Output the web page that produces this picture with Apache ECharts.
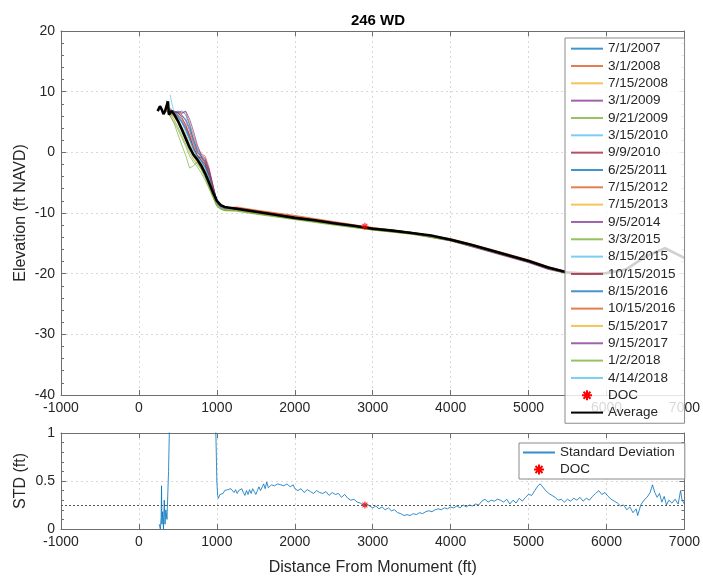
<!DOCTYPE html>
<html><head><meta charset="utf-8">
<script src="https://cdn.jsdelivr.net/npm/echarts@6/dist/echarts.min.js"></script>
<style>html,body{margin:0;padding:0;background:#fff}#c{width:703px;height:579px}</style>
</head><body><div id="c"></div>
<script>
// ---------- DATA ----------
const surveyDates = ['7/1/2007','3/1/2008','7/15/2008','3/1/2009','9/21/2009','3/15/2010','9/9/2010','6/25/2011','7/15/2012','7/15/2013','9/5/2014','3/3/2015','8/15/2015','10/15/2015','8/15/2016','10/15/2016','5/15/2017','9/15/2017','1/2/2018','4/14/2018'];
const xGrid = [300,350,400,450,500,550,600,650,700,750,800,850,900,950,1000,1050,1100,1250,1500,2000,2500,3000,3500,4000,4500,5000,5250,5500,5750,6000,6250,6500,6750,7000];
const s01 = [null,null,6.5,6.8,6.4,6.0,5.5,4.0,2.2,0.5,-0.6,-1.5,-3.5,-5.8,-7.8,-8.8,-9.1,-9.4,-9.9,-10.9,-11.8,-12.6,-13.3,-14.3,-16.0,-17.8,-19.0,-19.8,-20.0,-19.9,-19.3,-17.2,-15.8,-17.4];
const s02 = [null,null,null,6.2,6.6,6.4,6.7,4.8,2.8,0.8,-0.3,-0.6,-2.5,-5.5,-8.3,-9.0,-9.2,-9.0,-9.5,-10.4,-11.4,-12.4,-13.2,-14.2,-15.9,-17.7,-18.8,-19.7,-20.0,-19.9,-19.2,-17.1,-15.7,-17.3];
const s03 = [null,7.0,6.2,5.8,4.8,3.5,2.0,0.5,-0.8,-1.8,-2.6,-3.8,-5.2,-7.0,-8.6,-9.2,-9.4,-9.5,-10.0,-10.9,-11.8,-12.7,-13.4,-14.5,-16.2,-18.0,-19.1,-19.9,-20.1,-20.0,-19.4,-17.3,-15.9,-17.5];
const s04 = [null,null,null,6.6,6.8,6.5,6.8,5.5,3.5,1.2,-0.4,-1.0,-2.8,-5.6,-8.2,-9.0,-9.2,-9.2,-9.7,-10.7,-11.6,-12.5,-13.3,-14.5,-16.3,-18.1,-19.2,-19.9,-20.0,-19.9,-19.3,-17.2,-15.8,-17.4];
const s05 = [null,7.2,6.0,4.8,3.0,1.2,-0.5,-2.6,-2.2,-1.6,-2.8,-4.2,-5.8,-7.4,-8.9,-9.4,-9.6,-9.7,-10.2,-11.1,-12.0,-12.8,-13.5,-14.6,-16.3,-18.1,-19.2,-20.0,-20.2,-20.1,-19.5,-17.4,-16.0,-17.6];
const s06 = [null,null,9.5,6.5,6.2,5.5,4.2,2.6,0.8,-0.6,-1.2,-2.2,-4.0,-6.2,-8.4,-9.1,-9.3,-9.3,-9.8,-10.8,-11.6,-12.5,-13.2,-14.3,-16.0,-17.9,-19.0,-19.8,-20.0,-19.9,-19.3,-17.2,-15.8,-17.4];
const s07 = [null,null,7.2,6.6,6.5,5.8,4.5,2.8,0.6,-0.8,-0.8,-1.8,-3.8,-6.0,-8.2,-9.0,-9.2,-9.2,-9.7,-10.7,-11.6,-12.5,-13.3,-14.4,-16.1,-17.9,-19.0,-19.8,-20.0,-19.9,-19.3,-17.2,-15.8,-17.4];
const s08 = [null,null,null,6.4,6.6,6.8,6.2,4.5,2.0,0.2,-0.8,-1.6,-3.2,-5.6,-8.0,-8.9,-9.1,-9.3,-9.8,-10.8,-11.7,-12.6,-13.3,-14.3,-16.0,-17.8,-18.9,-19.8,-20.0,-19.9,-19.2,-17.1,-15.8,-17.4];
const s09 = [null,6.8,6.4,6.0,5.2,4.0,2.6,1.0,-0.4,-1.4,-2.0,-3.0,-4.6,-6.6,-8.4,-9.0,-9.3,-9.1,-9.6,-10.5,-11.5,-12.5,-13.2,-14.3,-16.0,-17.8,-18.9,-19.7,-19.9,-19.8,-19.2,-17.1,-15.7,-17.3];
const s10 = [null,null,7.4,6.2,5.4,4.2,3.0,1.5,0.0,-1.0,-1.8,-2.8,-4.4,-6.4,-8.3,-9.1,-9.3,-9.4,-9.9,-10.8,-11.7,-12.6,-13.3,-14.4,-16.1,-17.9,-19.0,-19.8,-20.0,-19.9,-19.3,-17.2,-15.8,-17.4];
const s11 = [null,null,6.8,6.4,6.0,5.0,3.8,2.2,0.6,-0.6,-1.4,-2.4,-4.2,-6.4,-8.5,-9.1,-9.4,-9.3,-9.8,-10.8,-11.7,-12.6,-13.4,-14.6,-16.4,-18.2,-19.3,-20.0,-20.1,-20.0,-19.4,-17.3,-15.9,-17.5];
const s12 = [null,7.0,6.0,5.0,3.8,2.4,1.0,-0.6,-1.6,-2.4,-3.4,-4.6,-6.0,-7.4,-8.8,-9.3,-9.6,-9.6,-10.1,-11.0,-11.9,-12.8,-13.4,-14.5,-16.2,-18.0,-19.1,-19.9,-20.1,-20.0,-19.4,-17.3,-15.9,-17.5];
const s13 = [null,null,6.8,6.4,5.8,4.8,3.4,2.0,0.4,-0.8,-1.6,-2.6,-4.4,-6.6,-8.6,-9.2,-9.4,-9.3,-9.8,-10.8,-11.7,-12.5,-13.2,-14.3,-16.0,-17.9,-19.0,-19.8,-20.0,-19.9,-19.3,-17.2,-15.8,-17.4];
const s14 = [null,null,7.0,6.4,6.0,5.2,4.0,2.4,0.8,-0.5,-1.2,-2.0,-3.8,-6.0,-8.3,-9.0,-9.3,-9.3,-9.8,-10.7,-11.6,-12.6,-13.3,-14.4,-16.1,-17.9,-19.0,-19.8,-20.0,-19.9,-19.3,-17.2,-15.8,-17.4];
const s15 = [null,null,6.6,6.2,5.8,5.0,3.8,2.2,0.6,-0.6,-1.4,-2.4,-4.0,-6.2,-8.4,-9.1,-9.3,-9.4,-9.9,-10.9,-11.7,-12.6,-13.3,-14.4,-16.1,-17.9,-19.0,-19.8,-20.0,-19.9,-19.3,-17.2,-15.8,-17.4];
const s16 = [null,null,7.0,6.6,6.2,5.6,4.6,3.0,1.2,-0.2,-1.0,-1.6,-3.4,-5.8,-8.1,-9.0,-9.2,-9.1,-9.6,-10.6,-11.5,-12.4,-13.2,-14.3,-16.0,-17.8,-18.9,-19.7,-19.9,-19.8,-19.2,-17.1,-15.7,-17.3];
const s17 = [null,7.2,6.6,6.0,5.0,3.8,2.4,0.8,-0.6,-1.6,-2.4,-3.4,-5.0,-6.8,-8.6,-9.2,-9.4,-9.5,-10.0,-10.9,-11.8,-12.7,-13.4,-14.5,-16.2,-18.0,-19.1,-19.9,-20.1,-20.0,-19.4,-17.3,-15.9,-17.5];
const s18 = [null,null,7.0,6.8,6.6,6.2,5.2,3.6,1.6,0.0,-0.6,-1.2,-3.0,-5.4,-8.0,-8.9,-9.2,-9.2,-9.7,-10.7,-11.6,-12.5,-13.3,-14.4,-16.1,-17.9,-19.0,-19.8,-20.0,-19.9,-19.3,-17.2,-15.8,-17.4];
const s19 = [null,8.6,6.4,5.4,4.2,2.8,1.4,0.0,-1.2,-2.0,-2.8,-4.0,-5.6,-7.2,-8.8,-9.3,-9.6,-9.6,-10.1,-11.0,-11.9,-12.8,-13.5,-14.5,-16.2,-18.0,-19.1,-19.9,-20.1,-20.0,-19.4,-17.3,-15.9,-17.5];
const s20 = [null,null,7.2,6.6,6.0,5.0,3.8,2.2,0.5,-0.8,-1.6,-2.6,-4.2,-6.4,-8.4,-9.1,-9.3,-9.3,-9.8,-10.8,-11.7,-12.6,-13.3,-14.4,-16.1,-17.9,-19.0,-19.8,-20.0,-19.9,-19.3,-17.2,-15.8,-17.4];
const surveys = [s01,s02,s03,s04,s05,s06,s07,s08,s09,s10,s11,s12,s13,s14,s15,s16,s17,s18,s19,s20];

const avgX = [240,270,295,315,335,355,372,385,397,420,450,500,550,600,650,700,750,800,850,900,950,1000,1050,1100,1250,1500,1750,2000,2250,2500,2750,3000,3250,3500,3750,4000,4250,4500,4750,5000,5250,5500,5750,6000,6250,6500,6750,7000];
const avgY = [6.8,7.6,7.0,6.3,6.8,7.0,8.4,6.2,6.0,6.8,6.3,5.2,3.8,2.3,0.8,-0.4,-1.2,-2.2,-3.5,-5.0,-6.6,-8.0,-8.7,-9.0,-9.3,-9.8,-10.3,-10.8,-11.2,-11.7,-12.1,-12.6,-12.9,-13.3,-13.7,-14.4,-15.2,-16.1,-17.0,-17.9,-19.0,-19.8,-20.0,-19.9,-19.3,-17.2,-15.8,-17.4];

const docX = 2900, docElev = -12.2, docStd = 0.25;
const stdThreshold = 0.25;

const stdX = [260,275,285,290,295,305,315,325,335,345,360,380,400,600,800,970,990,1000,1010,1020,1040,1060,1080,1100,1120,1140,1160,1180,1200,1220,1240,1260,1280,1300,1320,1340,1360,1380,1400,1420,1440,1460,1480,1500,1520,1540,1560,1580,1600,1620,1640,1660,1700,1740,1780,1820,1860,1900,1940,1980,2000,2040,2080,2120,2160,2200,2240,2280,2320,2360,2400,2440,2480,2520,2560,2600,2640,2680,2720,2760,2800,2840,2880,2920,2960,3000,3040,3080,3120,3160,3200,3240,3280,3320,3360,3400,3440,3480,3520,3560,3600,3640,3680,3720,3760,3800,3840,3880,3920,3960,4000,4040,4080,4120,4160,4200,4240,4280,4320,4360,4400,4440,4480,4520,4560,4600,4640,4680,4720,4760,4800,4840,4880,4920,4960,5000,5040,5080,5120,5150,5180,5220,5260,5300,5340,5380,5420,5460,5500,5540,5580,5620,5660,5700,5740,5780,5820,5860,5900,5940,5980,6020,6060,6100,6140,6180,6220,6260,6300,6340,6380,6400,6440,6480,6520,6560,6590,6620,6650,6680,6710,6740,6770,6800,6840,6880,6920,6950,6970,7000];
const stdY = [0.05,0.0,0.12,0.45,0.05,0.18,0.0,0.3,0.05,0.2,0.1,0.6,1.4,3.0,2.5,1.5,0.9,0.5,0.35,0.32,0.36,0.38,0.37,0.40,0.38,0.41,0.39,0.42,0.40,0.38,0.41,0.37,0.40,0.39,0.42,0.38,0.35,0.40,0.36,0.41,0.37,0.42,0.39,0.36,0.40,0.44,0.40,0.38,0.47,0.42,0.49,0.43,0.46,0.45,0.47,0.46,0.45,0.47,0.44,0.46,0.42,0.40,0.42,0.38,0.41,0.39,0.37,0.40,0.38,0.37,0.39,0.35,0.38,0.36,0.37,0.33,0.36,0.32,0.30,0.31,0.28,0.27,0.25,0.26,0.24,0.22,0.24,0.21,0.23,0.20,0.22,0.19,0.20,0.17,0.16,0.14,0.15,0.14,0.16,0.15,0.17,0.16,0.18,0.19,0.18,0.20,0.21,0.20,0.22,0.21,0.23,0.22,0.24,0.22,0.25,0.23,0.25,0.24,0.26,0.25,0.29,0.31,0.28,0.30,0.29,0.31,0.30,0.28,0.31,0.26,0.30,0.27,0.32,0.29,0.33,0.36,0.35,0.40,0.45,0.47,0.44,0.40,0.37,0.35,0.33,0.30,0.31,0.28,0.31,0.29,0.32,0.30,0.33,0.29,0.32,0.30,0.34,0.37,0.40,0.36,0.38,0.34,0.31,0.29,0.27,0.24,0.25,0.20,0.23,0.17,0.21,0.14,0.25,0.30,0.33,0.38,0.46,0.38,0.33,0.37,0.28,0.34,0.25,0.30,0.27,0.31,0.26,0.40,0.30,0.26];

// ---------- STYLE ----------
const matlabColors = ['#0072BD','#D95319','#EDB120','#7E2F8E','#77AC30','#4DBEEE','#A2142F'];
const FONT = 'Liberation Sans, Arial, Helvetica, sans-serif';
const axisCol = '#6e6e6e';
const txtCol = '#262626';
const asterisk = 'path://M5,0L5,10M0,5L10,5M1.5,1.5L8.5,8.5M8.5,1.5L1.5,8.5';

function xAx(gridIndex, bottom, showName) {
  return {
    type: 'value', gridIndex, position: bottom ? 'bottom' : 'top',
    min: -1000, max: 7000, interval: 1000,
    axisLine: { show: true, onZero: false, lineStyle: { color: axisCol, width: 1 } },
    axisTick: { show: true, inside: true, length: 5, lineStyle: { color: axisCol } },
    axisLabel: { show: bottom, color: txtCol, fontSize: 14, fontFamily: FONT, margin: 6, formatter: v => String(v) },
    splitLine: { show: bottom, lineStyle: { color: '#d8d8d8', type: [2, 3], width: 1 } },
    name: showName ? 'Distance From Monument (ft)' : '',
    nameLocation: 'middle', nameGap: 31, nameMoveOverlap: false,
    nameTextStyle: { color: txtCol, fontSize: 16, fontFamily: FONT }
  };
}
function yAx(gridIndex, left, min, max, interval, name, gap) {
  return {
    type: 'value', gridIndex, position: left ? 'left' : 'right',
    min, max, interval,
    axisLine: { show: true, onZero: false, lineStyle: { color: axisCol, width: 1 } },
    axisTick: { show: true, inside: true, length: 5, lineStyle: { color: axisCol } },
    minorTick: { show: true, splitNumber: 5, length: 3, lineStyle: { color: axisCol } },
    axisLabel: { show: left, color: txtCol, fontSize: 14, fontFamily: FONT, margin: 6, formatter: v => String(v) },
    splitLine: { show: left, lineStyle: { color: '#d8d8d8', type: [2, 3], width: 1 } },
    name: left ? name : '', nameLocation: 'middle', nameGap: gap, nameMoveOverlap: false,
    nameTextStyle: { color: txtCol, fontSize: 16, fontFamily: FONT }
  };
}

const series = [];
surveys.forEach((arr, i) => {
  series.push({
    type: 'line', name: surveyDates[i], xAxisIndex: 0, yAxisIndex: 0,
    data: xGrid.map((x, j) => [x, arr[j]]).filter(p => p[1] !== null),
    symbol: 'none', smooth: false, silent: true,
    lineStyle: { color: matlabColors[i % 7], width: 0.9, opacity: 0.75 },
    itemStyle: { color: matlabColors[i % 7] },
    z: 2
  });
});
series.push({
  type: 'scatter', name: 'DOC', xAxisIndex: 0, yAxisIndex: 0,
  data: [[docX, docElev]], symbol: asterisk, symbolSize: 7,
  itemStyle: { color: 'rgba(0,0,0,0)', borderColor: '#ff0000', borderWidth: 1.2 }, z: 4
});
series.push({
  type: 'line', name: 'Average', xAxisIndex: 0, yAxisIndex: 0,
  data: avgX.map((x, j) => [x, avgY[j]]), symbol: 'none',
  lineStyle: { color: '#000', width: 2.6 }, itemStyle: { color: '#000' }, z: 3
});
series.push({
  type: 'line', name: 'Standard Deviation', xAxisIndex: 2, yAxisIndex: 2,
  data: stdX.map((x, j) => [x, stdY[j]]), symbol: 'none', clip: true,
  lineStyle: { color: '#0072BD', width: 1, opacity: 0.8 }, itemStyle: { color: '#0072BD' },
  markLine: { silent: true, symbol: 'none', label: { show: false },
    lineStyle: { color: '#555', type: [2, 2], width: 1 }, data: [{ yAxis: stdThreshold }] },
  z: 2
});
series.push({
  type: 'scatter', name: 'DOC', xAxisIndex: 2, yAxisIndex: 2,
  data: [[docX, docStd]], symbol: asterisk, symbolSize: 7,
  itemStyle: { color: 'rgba(0,0,0,0)', borderColor: '#ff0000', borderWidth: 1.2 }, z: 4
});

const legendText = { color: txtCol, fontSize: 13.5, fontFamily: FONT, lineHeight: 17.33 };
const docLegendItem = { name: 'DOC', itemStyle: { opacity: 1 } };

const option = {
  backgroundColor: '#fff',
  animation: false,
  title: {
    text: '246 WD', left: 373, top: 8, textAlign: 'center',
    textStyle: { fontSize: 15, fontWeight: 'bold', color: '#000', fontFamily: FONT }
  },
  grid: [
    { left: 61, right: 18, top: 31, height: 364 },
    { left: 61, right: 18, top: 433, height: 96 }
  ],
  xAxis: [xAx(0, true, false), xAx(0, false, false), xAx(1, true, true), xAx(1, false, false)],
  yAxis: [
    yAx(0, true, -40, 20, 10, 'Elevation (ft NAVD)', 32),
    yAx(0, false, -40, 20, 10, '', 0),
    yAx(1, true, 0, 1, 0.5, 'STD (ft)', 32),
    yAx(1, false, 0, 1, 0.5, '', 0)
  ],
  legend: [
    {
      orient: 'vertical', left: 565, top: 38, itemGap: 0, itemWidth: 32, itemHeight: 10,
      padding: [2, 9, 2, 5], backgroundColor: 'rgba(255,255,255,0.82)',
      borderColor: '#8a8a8a', borderWidth: 1, borderRadius: 0,
      itemStyle: { opacity: 0 },
      data: surveyDates.concat([docLegendItem, 'Average']), textStyle: legendText,
      selectedMode: false, z: 10
    },
    {
      orient: 'vertical', left: 519, top: 443, itemGap: 0, itemWidth: 32, itemHeight: 10,
      padding: [1, 10, 1, 3], backgroundColor: '#fff',
      borderColor: '#8a8a8a', borderWidth: 1, borderRadius: 0,
      itemStyle: { opacity: 0 },
      data: ['Standard Deviation', docLegendItem],
      textStyle: { color: txtCol, fontSize: 13.5, fontFamily: FONT, lineHeight: 17 },
      selectedMode: false, z: 10
    }
  ],
  series
};

const chart = echarts.init(document.getElementById('c'), null, { renderer: 'canvas' });
chart.setOption(option);
</script>
</body></html>
